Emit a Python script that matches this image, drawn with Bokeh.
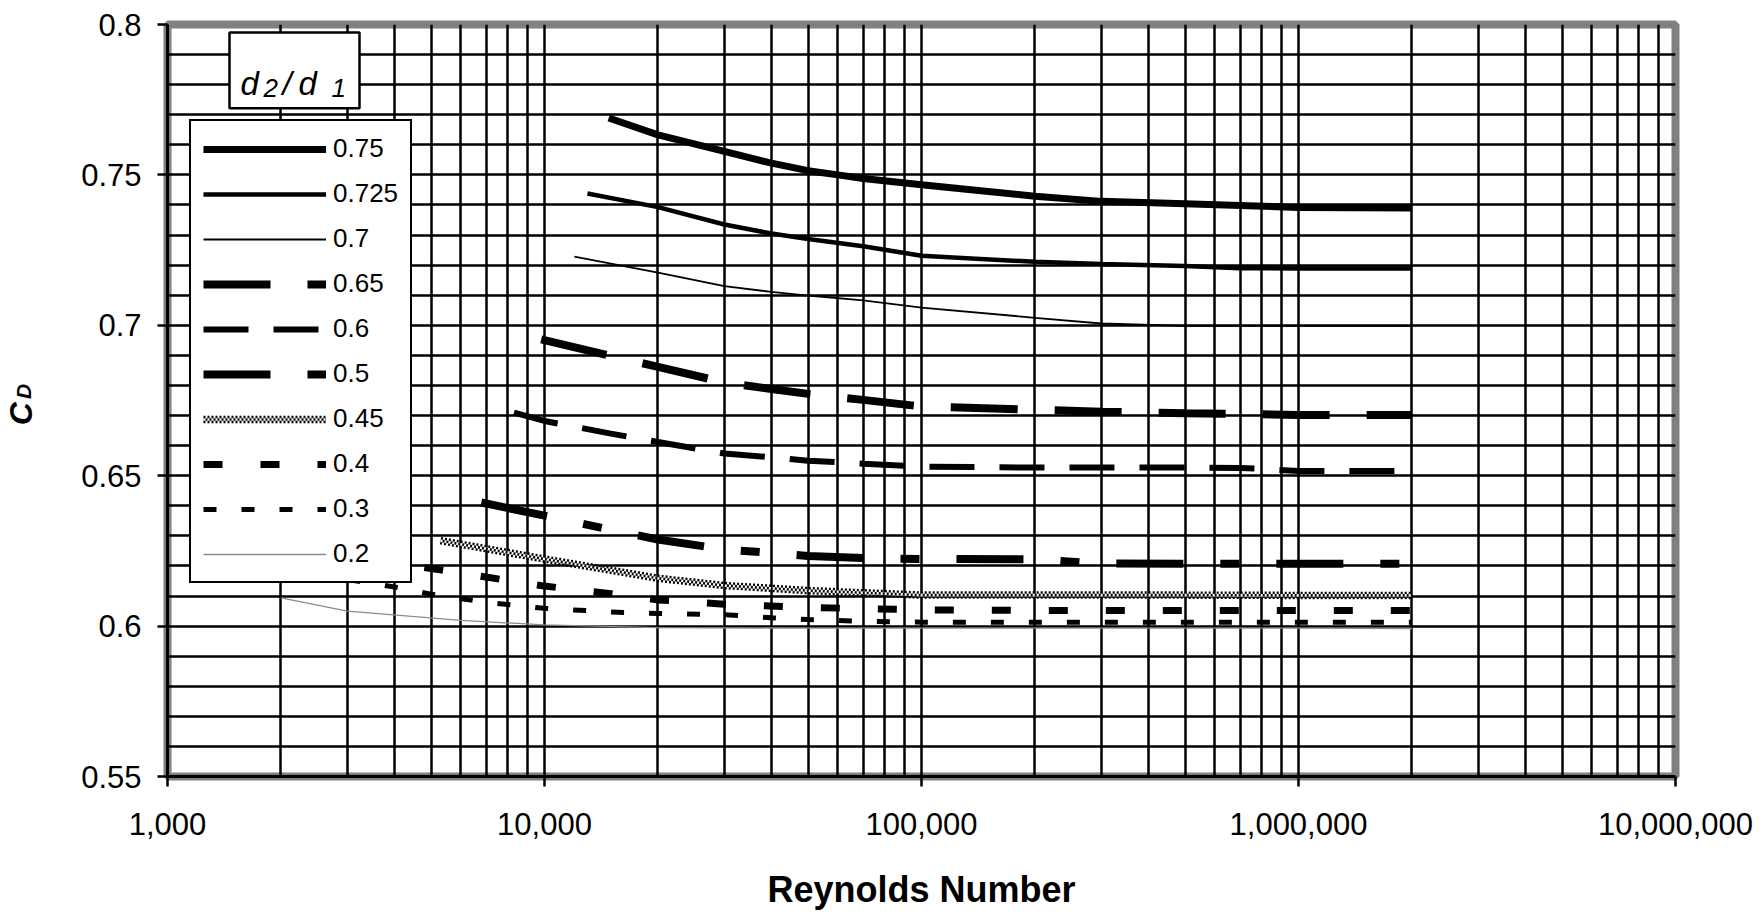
import numpy as np
from bokeh.plotting import figure
from bokeh.layouts import row
from bokeh.models import (Range1d, FixedTicker, NumeralTickFormatter, Legend, LegendItem,
                          BoxAnnotation, Label)
from bokeh.embed import file_html
from bokeh.resources import INLINE

FONT = "Liberation Sans"

# ---------------- data ----------------
re_075 = [14800, 20000, 30000, 40000, 50000, 60000, 70000, 100000, 200000, 300000, 500000, 1000000, 2000000]
cd_075 = [0.7689, 0.7633, 0.7578, 0.7539, 0.7514, 0.7500, 0.7488, 0.7467, 0.7429, 0.7412, 0.7404, 0.7392, 0.7390]

re_0725 = [13000, 20000, 30000, 40000, 50000, 70000, 100000, 200000, 300000, 500000, 700000, 1000000, 2000000]
cd_0725 = [0.7438, 0.7393, 0.7335, 0.7305, 0.7287, 0.7263, 0.7231, 0.7211, 0.7204, 0.7197, 0.7190, 0.7189, 0.7189]

re_070 = [12000, 20000, 30000, 40000, 50000, 70000, 100000, 200000, 300000, 500000, 1000000, 2000000]
cd_070 = [0.7228, 0.7175, 0.7130, 0.7111, 0.7099, 0.7083, 0.7059, 0.7025, 0.7006, 0.6998, 0.6998, 0.6998]

re_065 = [9800, 15000, 20000, 30000, 40000, 50000, 70000, 100000, 200000, 300000, 500000, 1000000, 2000000]
cd_065 = [0.6953, 0.6898, 0.6862, 0.6810, 0.6788, 0.6772, 0.6752, 0.6730, 0.6719, 0.6713, 0.6708, 0.6702, 0.6702]

re_060 = [8300, 10000, 15000, 20000, 30000, 40000, 50000, 70000, 100000, 200000, 500000, 700000, 1000000, 2000000]
cd_060 = [0.6710, 0.6682, 0.6640, 0.6612, 0.6574, 0.6561, 0.6550, 0.6540, 0.6530, 0.6527, 0.6527, 0.6526, 0.6516, 0.6516]

re_050 = [6800, 10000, 15000, 20000, 30000, 40000, 50000, 70000, 100000, 200000, 300000, 500000, 1000000, 2000000]
cd_050 = [0.6411, 0.6367, 0.6320, 0.6288, 0.6255, 0.6243, 0.6233, 0.6226, 0.6223, 0.6222, 0.6208, 0.6207, 0.6207, 0.6207]

re_045 = [5300, 10000, 20000, 30000, 50000, 100000, 200000, 500000, 1000000, 2000000]
cd_045 = [0.6284, 0.6223, 0.6159, 0.6135, 0.6118, 0.6103, 0.6103, 0.6103, 0.6102, 0.6102]

re_040 = [4800, 7000, 10000, 15000, 20000, 30000, 50000, 100000, 200000, 500000, 1000000, 2000000]
cd_040 = [0.6195, 0.6163, 0.6133, 0.6108, 0.6087, 0.6073, 0.6062, 0.6054, 0.6052, 0.6052, 0.6052, 0.6052]

re_030 = [3000, 4000, 5000, 7000, 10000, 15000, 20000, 30000, 40000, 50000, 70000, 100000, 200000, 500000, 1000000, 2000000]
cd_030 = [0.6155, 0.6130, 0.6106, 0.6079, 0.6059, 0.6047, 0.6042, 0.6038, 0.6028, 0.6022, 0.6016, 0.6013, 0.6013, 0.6013, 0.6013, 0.6013]

re_020 = [2000, 3000, 6000, 10000, 20000, 50000, 100000, 1000000, 2000000]
cd_020 = [0.6094, 0.6050, 0.6019, 0.6004, 0.5995, 0.5993, 0.5993, 0.5993, 0.5992]

series_labels = ["0.75", "0.725", "0.7", "0.65", "0.6", "0.5", "0.45", "0.4", "0.3", "0.2"]

x_major = [1e3, 1e4, 1e5, 1e6, 1e7]
x_labels = ["1,000", "10,000", "100,000", "1,000,000", "10,000,000"]
y_major = [0.55, 0.6, 0.65, 0.7, 0.75, 0.8]
y_labels = ["0.55", "0.6", "0.65", "0.7", "0.75", "0.8"]

x_title = "Reynolds Number"
y_title = ("C", "D")
legend_title = ("d", "2", "/", "d", "1")

# ---------------- layout constants (page pixels) ----------------
PAGE_H = 912
LEFT_W = 60                       # narrow strip that carries the y-axis title
FRAME_L_PG, FRAME_T_PG = 167, 24  # frame top-left on the page
FRAME_W, FRAME_H = 1508, 754
RIGHT_B = 80

# ---------------- main figure ----------------
p = figure(x_axis_type="log", x_range=Range1d(1e3, 1e7), y_range=Range1d(0.55, 0.8),
           width=FRAME_L_PG - LEFT_W + FRAME_W + RIGHT_B, height=PAGE_H,
           min_border_left=FRAME_L_PG - LEFT_W, min_border_right=RIGHT_B,
           min_border_top=FRAME_T_PG, min_border_bottom=PAGE_H - FRAME_T_PG - FRAME_H,
           output_backend="svg", toolbar_location=None,
           background_fill_color="white", border_fill_color="white")

x_minor = [m * 10 ** e for e in range(3, 7) for m in range(2, 10)]
y_minor = [v for v in np.round(np.arange(0.55, 0.8001, 0.01), 2).tolist() if v not in y_major]

p.xaxis.ticker = FixedTicker(ticks=x_major, minor_ticks=x_minor)
p.yaxis.ticker = FixedTicker(ticks=y_major, minor_ticks=y_minor)
p.xgrid.ticker = p.xaxis.ticker
p.ygrid.ticker = p.yaxis.ticker
p.xaxis.formatter = NumeralTickFormatter(format="0,0")
p.yaxis.formatter = NumeralTickFormatter(format="0.0[0]")
p.xaxis.major_label_overrides = dict(zip(x_major, x_labels))
p.yaxis.major_label_overrides = dict(zip(y_major, y_labels))

for g in (p.xgrid, p.ygrid):
    g.grid_line_color = "black"
    g.grid_line_width = 2.5
    g.minor_grid_line_color = "black"
    g.minor_grid_line_width = 2.5

p.axis.axis_line_color = "black"
p.axis.axis_line_width = 3
p.axis.major_tick_line_color = "black"
p.axis.major_tick_line_width = 2.5
p.axis.major_tick_in = 0
p.axis.major_tick_out = 10
p.axis.minor_tick_line_color = None
p.axis.major_label_text_font = FONT
p.axis.major_label_text_font_size = "31px"
p.axis.major_label_text_color = "black"
p.xaxis.major_label_standoff = 26
p.yaxis.major_label_standoff = 16

p.xaxis.axis_label = x_title
p.xaxis.axis_label_text_font = FONT
p.xaxis.axis_label_text_font_size = "36px"
p.xaxis.axis_label_text_font_style = "bold"
p.xaxis.axis_label_text_color = "black"
p.xaxis.axis_label_standoff = 31

p.outline_line_color = "#808080"
p.outline_line_width = 8

# ---------------- series ----------------
r075 = p.line(re_075, cd_075, line_color="black", line_width=7)
r0725 = p.line(re_0725, cd_0725, line_color="black", line_width=4.5)
r070 = p.line(re_070, cd_070, line_color="black", line_width=1.8)
r065 = p.line(re_065, cd_065, line_color="black", line_width=8, line_dash="67 37")
r060 = p.line(re_060, cd_060, line_color="black", line_width=6, line_dash="45 25")
r050 = p.line(re_050, cd_050, line_color="black", line_width=8, line_dash="67 37 19 37")
# checkered band: striped wide line + inverted stripes in its middle
r045a = p.line(re_045, cd_045, line_color="black", line_width=7.5, line_dash="2 2")
r045b = p.line(re_045, cd_045, line_color="white", line_width=2.6)
r045c = p.line(re_045, cd_045, line_color="black", line_width=2.6, line_dash="2 2", line_dash_offset=2)
r040 = p.line(re_040, cd_040, line_color="black", line_width=7, line_dash="19 38")
r030 = p.line(re_030, cd_030, line_color="black", line_width=5, line_dash="13 25")
r020 = p.line(re_020, cd_020, line_color="#8c8c8c", line_width=1.3)

rend = [[r075], [r0725], [r070], [r065], [r060], [r050], [r045a, r045b, r045c], [r040], [r030], [r020]]

legend = Legend(items=[LegendItem(label=lab, renderers=rs) for lab, rs in zip(series_labels, rend)],
                location=(22, 193), margin=0, padding=12, spacing=14,
                glyph_width=123, glyph_height=30, label_height=30, label_standoff=7,
                label_text_font=FONT, label_text_font_size="26px", label_text_color="black",
                border_line_color="black", border_line_width=2.5, border_line_alpha=1.0,
                background_fill_color="white", background_fill_alpha=1.0)
p.add_layout(legend)


# annotation positions given in page pixels of the reference
def at_x(px):
    return 10 ** (3 + (px - FRAME_L_PG) / (FRAME_W / 4.0))


def at_y(py):
    return 0.8 - (py - FRAME_T_PG) * 0.25 / FRAME_H


title_box = BoxAnnotation(left=at_x(229), right=at_x(359), top=at_y(32), bottom=at_y(108),
                          fill_color="white", fill_alpha=1.0,
                          line_color="black", line_alpha=1.0, line_width=2.5)
p.add_layout(title_box)

for txt, px, py, size in [(legend_title[0], 240, 83, "33px"), (legend_title[1], 263, 88, "26px"),
                          (legend_title[2], 282, 83, "33px"), (legend_title[3], 298, 83, "33px"),
                          (legend_title[4], 331, 88, "26px")]:
    p.add_layout(Label(x=at_x(px), y=at_y(py), text=txt, text_font=FONT, text_font_style="italic",
                       text_font_size=size, text_color="black", text_align="left",
                       text_baseline="alphabetic"))

# ---------------- left strip with the y-axis title ----------------
fl = figure(width=LEFT_W, height=PAGE_H, title=None,
            x_range=Range1d(0, LEFT_W), y_range=Range1d(0, PAGE_H),
            min_border=0, min_border_left=0, min_border_right=0, min_border_top=0, min_border_bottom=0,
            x_axis_location=None, y_axis_location=None,
            output_backend="svg", toolbar_location=None, outline_line_color=None,
            background_fill_color="white", border_fill_color="white")
fl.xgrid.visible = False
fl.ygrid.visible = False
fl.add_layout(Label(x=20, y=PAGE_H - 472, text=y_title[0], angle=np.pi / 2, text_font=FONT,
                    text_font_style="bold italic", text_font_size="32px", text_color="black",
                    text_align="center", text_baseline="middle"))
fl.add_layout(Label(x=23, y=PAGE_H - 445, text=y_title[1], angle=np.pi / 2, text_font=FONT,
                    text_font_style="bold italic", text_font_size="21px", text_color="black",
                    text_align="center", text_baseline="middle"))

layout = row(fl, p, spacing=0)
open("out.html", "w").write(file_html(layout, INLINE))
